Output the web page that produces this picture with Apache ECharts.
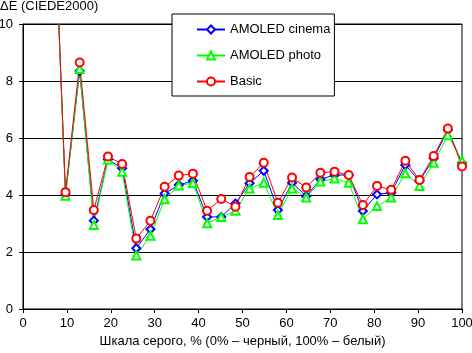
<!DOCTYPE html>
<html>
<head>
<meta charset="utf-8">
<script src="https://cdn.jsdelivr.net/npm/echarts@6/dist/echarts.min.js"></script>
<style>
  html, body { margin: 0; padding: 0; background: #fff; }
  #chart { width: 472px; height: 353px; }
</style>
</head>
<body>
<div id="chart"></div>
<script>
// grey levels: step i * 100/31, i = 2..31
const steps = [2, 3, 4, 5, 6, 7, 8, 9, 10, 11, 12, 13, 14, 15, 16, 17, 18, 19, 20, 21, 22, 23, 24, 25, 26, 27, 28, 29, 30, 31]
const grey = steps.map((i) => (i * 100) / 31)

const cinema = [16.7, 4.0, 8.35, 3.1, 5.25, 4.94, 2.13, 2.8, 4.05, 4.35, 4.5, 3.23, 3.23, 3.7, 4.41, 4.85, 3.47, 4.43, 3.96, 4.55, 4.7, 4.7, 3.44, 4.02, 4.08, 5.05, 4.49, 5.29, 6.28, 5.12]
const photo = [16.7, 3.97, 8.42, 2.95, 5.25, 4.82, 1.88, 2.57, 3.85, 4.33, 4.42, 3.01, 3.23, 3.45, 4.23, 4.43, 3.3, 4.23, 3.91, 4.47, 4.58, 4.43, 3.15, 3.61, 3.91, 4.76, 4.32, 5.13, 6.1, 5.2]
const basic = [16.7, 4.1, 8.65, 3.47, 5.35, 5.09, 2.47, 3.1, 4.29, 4.68, 4.75, 3.45, 3.86, 3.59, 4.63, 5.13, 3.73, 4.61, 4.26, 4.78, 4.82, 4.7, 3.65, 4.32, 4.18, 5.2, 4.53, 5.37, 6.33, 5.0]

const seriesNames = ['AMOLED cinema', 'AMOLED photo', 'Basic']
const yTitle = 'ΔE (CIEDE2000)'
const xTitle = 'Шкала серого, % (0% – черный, 100% – белый)'

const font = 'Liberation Sans, Arial, sans-serif'

function makeSeries(name, values, color, symbol) {
  return {
    name,
    type: 'line',
    data: values.map((v, k) => [grey[k], v]),
    symbol,
    symbolSize: 8,
    lineStyle: { color, width: 1 },
    itemStyle: { color, borderColor: color, borderWidth: 1 },
    emphasis: { disabled: true },
    clip: true,
    animation: false,
  }
}

const chart = echarts.init(document.getElementById('chart'), null, { renderer: 'canvas' })
chart.setOption({
  backgroundColor: '#fff',
  animation: false,
  textStyle: { fontFamily: font },
  title: {
    text: yTitle,
    left: 0,
    top: 0,
    padding: 0,
    textStyle: { fontFamily: font, fontSize: 13, fontWeight: 'normal', color: '#000' },
  },
  grid: {
    left: 23, right: 10, top: 24, bottom: 44,
    outerBoundsMode: 'none',
    containLabel: false,
    show: true, borderColor: '#000', borderWidth: 1,
  },
  legend: {
    orient: 'vertical',
    left: 172,
    top: 14,
    padding: [9, 4, 8, 24],
    itemGap: 13,
    itemWidth: 28,
    itemHeight: 10,
    backgroundColor: '#fff',
    borderColor: '#000',
    borderWidth: 1,
    borderRadius: 0,
    textStyle: { fontFamily: font, fontSize: 13, color: '#000' },
    data: seriesNames,
  },
  xAxis: {
    type: 'value',
    min: 0,
    max: 100,
    interval: 10,
    name: xTitle,
    nameLocation: 'middle',
    nameGap: 22,
    nameTextStyle: { fontFamily: font, fontSize: 13, color: '#000' },
    axisLine: { show: true, lineStyle: { color: '#000', width: 1 } },
    axisTick: { show: true, length: 4, lineStyle: { color: '#000' } },
    axisLabel: { fontFamily: font, fontSize: 13, color: '#000', margin: 8 },
    splitLine: { show: false },
  },
  yAxis: {
    type: 'value',
    min: 0,
    max: 10,
    interval: 2,
    axisLine: { show: true, lineStyle: { color: '#000', width: 1 } },
    axisTick: { show: true, length: 4, lineStyle: { color: '#000' } },
    axisLabel: { fontFamily: font, fontSize: 13, color: '#000', margin: 10 },
    splitLine: { show: true, lineStyle: { color: '#000', width: 1 } },
  },
  series: [
    makeSeries(seriesNames[0], cinema, '#0000ff', 'emptyDiamond'),
    makeSeries(seriesNames[1], photo, '#00ff00', 'emptyTriangle'),
    makeSeries(seriesNames[2], basic, '#ff0000', 'emptyCircle'),
  ],
})
</script>
</body>
</html>
